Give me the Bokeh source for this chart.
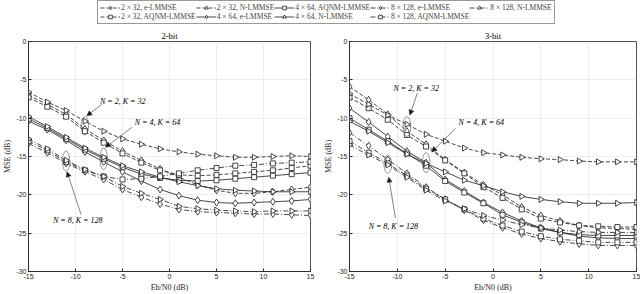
import math
from bokeh.plotting import figure
from bokeh.layouts import column, row
from bokeh.models import Range1d, Legend, LegendItem, Arrow, NormalHead, Label, FixedTicker
from bokeh.embed import file_html
from bokeh.resources import INLINE

# ---------------- data ----------------
ebn0 = [-15, -13, -11, -9, -7, -5, -3, -1, 1, 3, 5, 7, 9, 11, 13, 15]

# 2-bit
b2_2x32_e = [-7.0, -8.2, -9.5, -11.4, -12.9, -14.3, -15.5, -16.6, -17.7, -18.7, -19.4, -19.8, -19.8, -19.6, -19.3, -19.0]
b2_2x32_a = [-7.3, -8.5, -9.8, -11.7, -13.2, -14.6, -15.8, -16.8, -17.4, -17.5, -17.4, -17.2, -17.0, -16.8, -16.5, -16.2]
b2_2x32_n = [-6.6, -7.9, -9.0, -10.4, -11.7, -12.7, -13.4, -14.0, -14.4, -14.7, -14.9, -15.1, -15.1, -15.0, -14.9, -15.0]
b2_4x64_e = [-10.4, -11.5, -12.9, -14.4, -15.7, -17.0, -18.2, -19.3, -20.1, -20.7, -21.0, -21.1, -21.0, -20.9, -20.8, -20.6]
b2_4x64_a = [-10.1, -11.3, -12.7, -14.1, -15.3, -16.4, -17.3, -17.8, -18.1, -18.2, -18.1, -17.9, -17.7, -17.5, -17.3, -17.1]
b2_4x64_n = [-9.8, -11.1, -12.5, -13.9, -15.1, -16.2, -17.0, -17.7, -18.3, -18.8, -19.2, -19.4, -19.5, -19.6, -19.6, -19.6]
b2_8x128_e = [-13.3, -14.5, -15.9, -17.0, -18.0, -19.3, -20.3, -21.2, -21.9, -22.2, -22.3, -22.4, -22.5, -22.5, -22.6, -22.7]
b2_8x128_a = [-13.0, -14.2, -15.7, -16.8, -17.6, -18.0, -17.9, -17.6, -17.2, -16.8, -16.5, -16.2, -16.1, -15.9, -15.8, -15.7]
b2_8x128_n = [-12.7, -14.0, -15.5, -16.7, -17.6, -18.9, -19.8, -20.6, -21.5, -21.8, -22.0, -22.1, -22.2, -22.1, -22.1, -22.1]

# 3-bit
b3_2x32_e = [-5.9, -7.6, -9.5, -11.7, -13.4, -15.4, -17.1, -18.7, -20.0, -21.6, -22.7, -23.4, -24.0, -24.3, -24.4, -24.5]
b3_2x32_a = [-7.3, -8.7, -10.2, -12.2, -13.7, -15.5, -17.2, -19.0, -20.4, -21.9, -23.1, -23.6, -24.0, -24.1, -24.2, -24.2]
b3_2x32_n = [-6.8, -8.2, -9.6, -10.8, -12.1, -13.0, -13.9, -14.5, -14.8, -15.1, -15.3, -15.4, -15.6, -15.7, -15.7, -15.7]
b3_4x64_e = [-8.7, -10.5, -12.4, -14.3, -15.8, -18.0, -19.5, -21.0, -22.3, -23.4, -24.3, -24.9, -25.4, -25.6, -25.7, -25.7]
b3_4x64_a = [-10.0, -11.5, -13.0, -14.6, -16.2, -18.2, -19.7, -21.1, -22.6, -23.6, -24.4, -24.9, -25.2, -25.3, -25.3, -25.3]
b3_4x64_n = [-10.4, -11.7, -13.2, -14.7, -15.9, -17.0, -18.1, -18.8, -19.6, -20.2, -20.6, -20.9, -21.1, -21.1, -21.1, -21.0]
b3_8x128_e = [-11.9, -13.6, -15.4, -17.2, -19.0, -20.6, -22.0, -23.3, -24.3, -25.1, -25.7, -26.1, -26.4, -26.6, -26.6, -26.6]
b3_8x128_a = [-13.0, -14.5, -15.9, -17.5, -19.2, -20.6, -21.9, -23.1, -24.0, -24.8, -25.4, -25.8, -26.0, -26.2, -26.2, -26.2]
b3_8x128_n = [-13.5, -14.8, -16.1, -17.7, -19.4, -20.8, -21.8, -22.7, -23.3, -23.9, -24.3, -24.6, -24.8, -24.9, -24.9, -24.9]

labels = ["2 \u00d7 32, e-LMMSE", "2 \u00d7 32, AQNM-LMMSE", "2 \u00d7 32, N-LMMSE",
          "4 \u00d7 64, e-LMMSE", "4 \u00d7 64, AQNM-LMMSE", "4 \u00d7 64, N-LMMSE",
          "8 \u00d7 128, e-LMMSE", "8 \u00d7 128, AQNM-LMMSE", "8 \u00d7 128, N-LMMSE"]
series_2bit = [b2_2x32_e, b2_2x32_a, b2_2x32_n, b2_4x64_e, b2_4x64_a, b2_4x64_n, b2_8x128_e, b2_8x128_a, b2_8x128_n]
series_3bit = [b3_2x32_e, b3_2x32_a, b3_2x32_n, b3_4x64_e, b3_4x64_a, b3_4x64_n, b3_8x128_e, b3_8x128_a, b3_8x128_n]

x_ticks = [-15, -10, -5, 0, 5, 10, 15]
y_ticks = [-30, -25, -20, -15, -10, -5, 0]

# annotations: (text, text_x, text_y, arrow_x0, arrow_y0, arrow_x1, arrow_y1, ell_x, ell_y, ell_h)
ann_2bit = [("N = 2, K = 32", -7.4, -7.8, -7.2, -8.2, -8.8, -9.7, -9, -11.0, 2.4),
            ("N = 4, K = 64", -3.7, -10.5, -4.0, -11.2, -6.8, -13.8, -7, -15.3, 2.8),
            ("N = 8, K = 128", -12.4, -23.4, -9.4, -22.6, -10.9, -17.0, -11, -15.6, 2.6)]
ann_3bit = [("N = 2, K = 32", -10.4, -6.1, -7.9, -6.7, -8.7, -9.6, -9, -11.1, 2.6),
            ("N = 4, K = 64", -3.6, -10.6, -3.9, -11.3, -6.4, -14.4, -7, -15.8, 2.6),
            ("N = 8, K = 128", -13.0, -24.1, -10.2, -23.0, -10.9, -17.7, -11, -16.0, 2.4)]

# ---------------- styles ----------------
dashes = ["4 2", "4 2", "4 2", "solid", "solid", "solid", "5 2 1 2", "5 2 1 2", "5 2 1 2"]
markers = ["diamond", "square", "triangle"] * 3
msizes = [7, 5, 6] * 3
angles = [0, 0, -math.pi / 2] * 3

SERIF = "Liberation Serif"
SANS = "Liberation Sans"
INK = "#1a1a1a"


def add_series(p, ys, i):
    ln = p.line(ebn0, ys, line_color=INK, line_width=0.8, line_dash=dashes[i])
    sc = p.scatter(ebn0, ys, marker=markers[i], size=msizes[i], angle=angles[i],
                   line_color=INK, line_width=0.8, fill_color="white")
    return ln, sc


def make_panel(title, series, anns, width, left_border, right_border):
    p = figure(width=width, height=268, x_range=Range1d(-15, 15), y_range=Range1d(-30, 0),
               toolbar_location=None, output_backend="svg",
               min_border_left=left_border, min_border_right=right_border,
               min_border_top=15, min_border_bottom=22)
    p.title.text = title
    p.title.align = "center"
    p.title.text_font = SERIF
    p.title.text_font_size = "8.5px"
    p.title.text_font_style = "normal"
    p.title.text_color = "#000000"
    p.title.standoff = 1
    p.outline_line_color = "#262626"
    p.outline_line_width = 0.8
    for ax in (p.xaxis[0], p.yaxis[0]):
        ax.axis_line_color = "#262626"
        ax.axis_line_width = 0.8
        ax.major_tick_in = 3
        ax.major_tick_out = 0
        ax.minor_tick_line_color = None
        ax.major_tick_line_color = "#262626"
        ax.major_label_text_font = SANS
        ax.major_label_text_font_size = "7px"
        ax.major_label_text_color = "#262626"
        ax.major_label_standoff = 2
        ax.axis_label_text_font = SERIF
        ax.axis_label_text_font_size = "8px"
        ax.axis_label_text_font_style = "normal"
        ax.axis_label_text_color = "#262626"
        ax.axis_label_standoff = 1
    p.xaxis.ticker = FixedTicker(ticks=x_ticks)
    p.yaxis.ticker = FixedTicker(ticks=y_ticks)
    p.xaxis.major_label_overrides = {t: str(t) for t in x_ticks}
    p.yaxis.major_label_overrides = {t: str(t) for t in y_ticks}
    p.xaxis.axis_label = "Eb/N0 (dB)"
    p.yaxis.axis_label = "MSE (dB)"
    p.grid.grid_line_color = "#e6e6e6"
    p.grid.grid_line_width = 0.7
    for i, ys in enumerate(series):
        add_series(p, ys, i)
    for (txt, tx, ty, ax0, ay0, ax1, ay1, ex, ey, eh) in anns:
        p.ellipse(x=[ex], y=[ey], width=0.8, height=eh, fill_color=None,
                  line_color="#555555", line_width=0.6)
        p.add_layout(Arrow(end=NormalHead(size=5, fill_color=INK, line_color=INK, line_width=0.5),
                           x_start=ax0, y_start=ay0, x_end=ax1, y_end=ay1,
                           line_color="#333333", line_width=0.6))
        p.add_layout(Label(x=tx, y=ty, text=txt, text_font=SERIF, text_font_size="8px",
                           text_font_style="italic", text_baseline="middle", text_align="left",
                           text_color="#000000"))
    return p


left = make_panel("2-bit", series_2bit, ann_2bit, 320, 24, 10)
right = make_panel("3-bit", series_3bit, ann_3bit, 320, 29, 4)

# legend strip (renderers far outside the visible ranges)
leg = figure(width=640, height=26, x_range=Range1d(100, 101), y_range=Range1d(100, 101),
             toolbar_location=None, output_backend="svg", min_border=0)
leg.axis.visible = False
leg.grid.visible = False
leg.outline_line_color = None
items = []
for i, ys in enumerate(series_2bit):
    ln, sc = add_series(leg, ys, i)
    items.append(LegendItem(label=labels[i], renderers=[ln, sc]))
legend = Legend(items=items, orientation="vertical", nrows=2, location=(97, 2),
                label_text_font=SERIF, label_text_font_size="7.5px", label_height=9,
                glyph_width=20, glyph_height=9, label_standoff=1, spacing=0, padding=2,
                margin=0, border_line_color="#333333", border_line_width=0.6,
                background_fill_color="white")
leg.add_layout(legend, "center")

layout = column(leg, row(left, right, spacing=0), spacing=0)
open("out.html", "w").write(file_html(layout, INLINE))
